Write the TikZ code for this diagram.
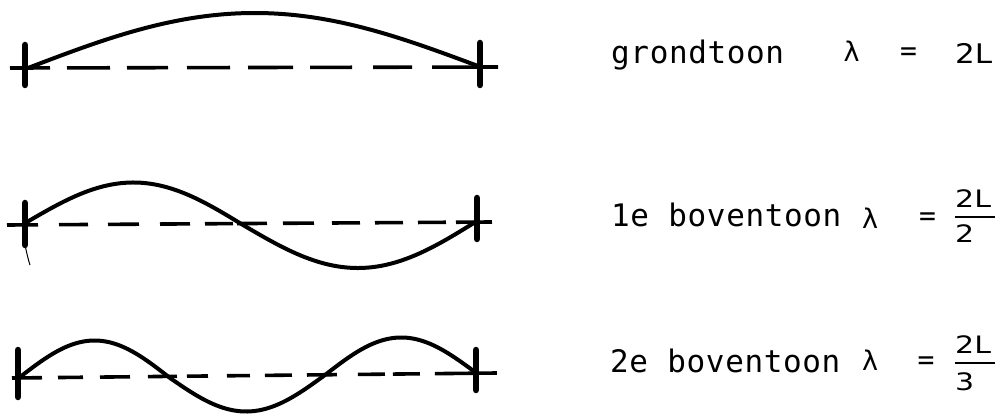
\documentclass[tikz,border=0pt]{standalone}
\usepackage{fontspec}
\usepackage{graphicx}
\newfontfamily\twfont{DejaVu Sans Mono}[LetterSpace=2]
\newfontfamily\sansfnt{DejaVu Sans}
\begin{document}
\begin{tikzpicture}[x=1pt,y=-1pt,
  tickmark/.style={line width=6.5pt, line cap=round},
  wave/.style={line width=4pt, line join=round, line cap=round},
  axisline/.style={line width=3.6pt, line cap=butt},
  lbl/.style={inner sep=0pt, anchor=base west, font=\twfont\fontsize{31}{36}\selectfont},
  lam/.style={inner sep=0pt, anchor=center, font=\sansfnt\fontsize{27}{30}\selectfont},
  eqs/.style={inner sep=0pt, anchor=center, font=\twfont\fontsize{28}{32}\selectfont},
  frac/.style={inner sep=0pt, anchor=base west, font=\sansfnt\fontsize{24}{28}\selectfont},
  fracbar/.style={line width=1.8pt}]
\fill[white] (0,0) rectangle (996,414);
\useasboundingbox (0,0) rectangle (996,414);

% ---------- row 1 : grondtoon ----------
\coordinate (s1) at (10,68);
\coordinate (e1) at (498,67);
\coordinate (lt1) at (25,45);
\coordinate (lb1) at (25,85);
\coordinate (rt1) at (480,43);
\coordinate (rb1) at (480,85);
\draw[axisline, dash pattern=on 40pt off 17pt on 43pt off 17pt on 41pt off 19pt on 43pt off 18pt on 45pt off 17pt on 42pt off 21pt on 39pt off 20pt on 66pt off 10pt] (s1) -- (e1);
\draw[tickmark] (lt1) -- (lb1);
\draw[tickmark] (rt1) -- (rb1);
\draw[wave] plot[domain=0:1, samples=70] ({28+450*\x},{68-2*\x-54*sin(180*\x)});

% ---------- row 2 : 1e boventoon ----------
\coordinate (s2) at (7,225);
\coordinate (e2) at (492,222);
\coordinate (lt2) at (25,203);
\coordinate (lb2) at (25,245);
\coordinate (rt2) at (477,198);
\coordinate (rb2) at (477,239);
\coordinate (sq1) at (30,265);
\draw[axisline, dash pattern=on 31pt off 21pt on 29pt off 20pt on 31pt off 21pt on 30pt off 15pt on 28pt off 4pt on 30pt off 16pt on 31pt off 18pt on 28pt off 15pt on 28pt off 15pt on 28pt off 10pt on 36pt off 10pt] (s2) -- (e2);
\draw[tickmark] (lt2) -- (lb2);
\draw[tickmark] (rt2) -- (rb2);
\draw[line width=1pt] (lb2) .. controls (27,254) and (28,259) .. (sq1);
\draw[wave] plot[domain=0:1, samples=50] ({27+216*\x},{222+3*\x-41*sin(180*\x)})
  -- plot[domain=0:1, samples=50] ({243+234*\x},{225-4*\x+45*sin(180*\x)});

% ---------- row 3 : 2e boventoon ----------
\coordinate (s3) at (12,378);
\coordinate (e3) at (497,373);
\coordinate (lt3) at (18,350);
\coordinate (lb3) at (18,397);
\coordinate (rt3) at (476,350);
\coordinate (rb3) at (476,390);
\draw[axisline, dash pattern=on 30pt off 16pt on 25pt off 17pt on 30pt off 18pt on 29pt off 10pt on 21pt off 19pt on 23pt off 15pt on 27pt off 15pt on 30pt off 21pt on 27pt off 8pt on 27pt off 15pt on 62pt off 10pt] (s3) -- (e3);
\draw[tickmark] (lt3) -- (lb3);
\draw[tickmark] (rt3) -- (rb3);
\draw[wave] plot[domain=0:1, samples=45] ({20+150*\x},{377+1*\x-37*sin(180*\x)})
  -- plot[domain=0:1, samples=45] ({170+155*\x},{378-3*\x+35*sin(180*\x)})
  -- plot[domain=0:1, samples=45] ({325+150*\x},{375-3*\x-36*sin(180*\x)});

% ---------- labels ----------
\node[lbl] (t1) at (611,64) {grondtoon};
\node[lam] (l1) at (851.5,51.5) {λ};
\node[eqs] (q1) at (908.5,54) {=};
\node[frac, font=\sansfnt\fontsize{27}{30}\selectfont] (v1) at (955,64) {\scalebox{1.15}[1]{2L}};

\node[lbl] (t2) at (611,226) {1e boventoon};
\node[lam] (l2) at (870,218.5) {λ};
\node[eqs] (q2) at (927.5,219.5) {=};
\node[frac] (n2) at (955,208) {\scalebox{1.25}[1]{2L}};
\coordinate (ba2) at (955,217);
\coordinate (bb2) at (995,217);
\draw[fracbar] (ba2) -- (bb2);
\node[frac] (d2) at (955,243) {\scalebox{1.25}[1]{2}};

\node[lbl] (t3) at (610,372) {2e boventoon};
\node[lam] (l3) at (870,360) {λ};
\node[eqs] (q3) at (926,363.5) {=};
\node[frac] (n3) at (955,353) {\scalebox{1.25}[1]{2L}};
\coordinate (ba3) at (955,363);
\coordinate (bb3) at (995,363);
\draw[fracbar] (ba3) -- (bb3);
\node[frac] (d3) at (955,390) {\scalebox{1.25}[1]{3}};
\end{tikzpicture}
\end{document}
